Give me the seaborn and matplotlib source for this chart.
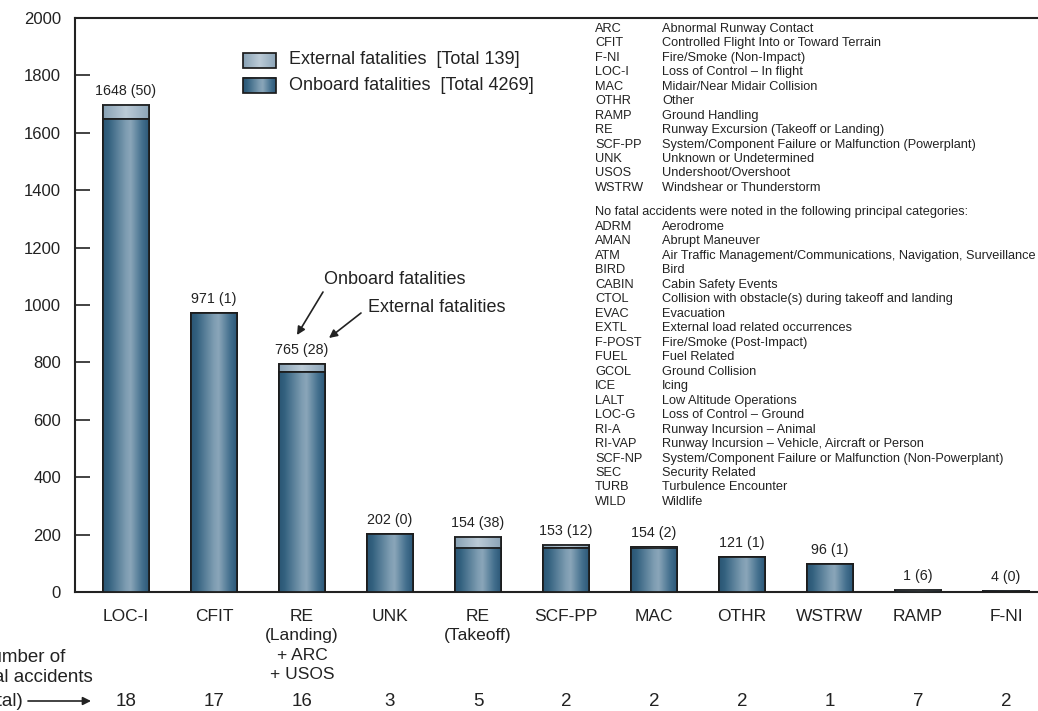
import numpy as np
import pandas as pd
import matplotlib
matplotlib.use("Agg")
import matplotlib.pyplot as plt
import seaborn as sns
from matplotlib.colors import LinearSegmentedColormap
from matplotlib.patches import Rectangle
from matplotlib.transforms import blended_transform_factory

# ---- data -------------------------------------------------------------
categories = ["LOC-I", "CFIT", "RE\n(Landing)\n+ ARC\n+ USOS", "UNK", "RE\n(Takeoff)",
              "SCF-PP", "MAC", "OTHR", "WSTRW", "RAMP", "F-NI"]
onboard = [1648, 971, 765, 202, 154, 153, 154, 121, 96, 1, 4]
external = [50, 1, 28, 0, 38, 12, 2, 1, 1, 6, 0]
accidents = [18, 17, 16, 3, 5, 2, 2, 2, 1, 7, 2]
y_ticks = [0, 200, 400, 600, 800, 1000, 1200, 1400, 1600, 1800, 2000]

codes_fatal = ["ARC", "CFIT", "F-NI", "LOC-I", "MAC", "OTHR", "RAMP", "RE",
               "SCF-PP", "UNK", "USOS", "WSTRW"]
names_fatal = ["Abnormal Runway Contact", "Controlled Flight Into or Toward Terrain",
               "Fire/Smoke (Non-Impact)", "Loss of Control \u2013 In flight",
               "Midair/Near Midair Collision", "Other", "Ground Handling",
               "Runway Excursion (Takeoff or Landing)",
               "System/Component Failure or Malfunction (Powerplant)",
               "Unknown or Undetermined", "Undershoot/Overshoot",
               "Windshear or Thunderstorm"]
none_header = "No fatal accidents were noted in the following principal categories:"
codes_none = ["ADRM", "AMAN", "ATM", "BIRD", "CABIN", "CTOL", "EVAC", "EXTL", "F-POST",
              "FUEL", "GCOL", "ICE", "LALT", "LOC-G", "RI-A", "RI-VAP", "SCF-NP", "SEC",
              "TURB", "WILD"]
names_none = ["Aerodrome", "Abrupt Maneuver",
              "Air Traffic Management/Communications, Navigation, Surveillance",
              "Bird", "Cabin Safety Events",
              "Collision with obstacle(s) during takeoff and landing", "Evacuation",
              "External load related occurrences", "Fire/Smoke (Post-Impact)",
              "Fuel Related", "Ground Collision", "Icing", "Low Altitude Operations",
              "Loss of Control \u2013 Ground", "Runway Incursion \u2013 Animal",
              "Runway Incursion \u2013 Vehicle, Aircraft or Person",
              "System/Component Failure or Malfunction (Non-Powerplant)",
              "Security Related", "Turbulence Encounter", "Wildlife"]

# ---- style ------------------------------------------------------------
sns.set_theme(style="white")
plt.rcParams["font.family"] = ["Liberation Sans", "DejaVu Sans"]
INK = "#222222"
plt.rcParams["text.color"] = INK

onboard_cmap = LinearSegmentedColormap.from_list(
    "onboard", [(0.0, "#2a5574"), (0.12, "#33617f"), (0.5, "#7e9db2"),
                (0.6, "#8aa6b9"), (0.85, "#44708e"), (1.0, "#2c5878")])
external_cmap = LinearSegmentedColormap.from_list(
    "external", [(0.0, "#87a1b4"), (0.5, "#bccbd7"), (1.0, "#8ca5b8")])

EDGE_LW = 1.25

W, H = 1038, 711
fig = plt.figure(figsize=(W / 100, H / 100), dpi=100)
ax = fig.add_axes([75 / W, (H - 592) / H, (1057 - 75) / W, (592 - 18) / H])

df = pd.DataFrame({"category": categories, "onboard": onboard, "external": external})
df["total"] = df["onboard"] + df["external"]

sns.barplot(data=df, x="category", y="total", color="#a9bdcc", width=0.52,
            edgecolor="#1c1c1c", linewidth=EDGE_LW, errorbar=None, ax=ax, zorder=2)
sns.barplot(data=df, x="category", y="onboard", color="#4f7a97", width=0.52,
            edgecolor="#1c1c1c", linewidth=EDGE_LW, errorbar=None, ax=ax, zorder=3)

XLIM = (-0.58, 10.58)
ax.set_xlim(*XLIM)
ax.set_ylim(0, 2000)

grad = np.linspace(0, 1, 256)


def shade(x0, x1, y0, y1, cmap, z, target=ax):
    img = cmap(grad).reshape(1, -1, 4)
    target.imshow(img, extent=[x0, x1, y0, y1], aspect="auto", zorder=z,
                  interpolation="bilinear")
    target.add_patch(Rectangle((x0, y0), x1 - x0, y1 - y0, fill=False,
                               edgecolor="#1c1c1c", linewidth=EDGE_LW, zorder=z + 0.01))


n = len(categories)
for k, p in enumerate(ax.patches[:2 * n]):
    cmap = external_cmap if k < n else onboard_cmap
    x0, y0 = p.get_x(), p.get_y()
    shade(x0, x0 + p.get_width(), y0, y0 + p.get_height(), cmap, p.get_zorder() + 0.01)

ax.set_xlim(*XLIM)
ax.set_ylim(0, 2000)
ax.set_xlabel("")
ax.set_ylabel("")

for side in ["left", "top", "bottom", "right"]:
    ax.spines[side].set_linewidth(1.5)
    ax.spines[side].set_color(INK)
ax.set_yticks(y_ticks)
ax.tick_params(axis="y", direction="in", length=11, width=1.2, color=INK,
               pad=10, labelsize=12, labelcolor=INK, left=True)
ax.tick_params(axis="x", length=0, pad=12, labelsize=12.5, labelcolor=INK)
for lbl in ax.get_xticklabels():
    lbl.set_linespacing(1.38)

# value labels: onboard (external)
for i, (o, e) in enumerate(zip(onboard, external)):
    ax.annotate(f"{o} ({e})", xy=(i, o + e), xytext=(0, 5), textcoords="offset points",
                ha="center", va="bottom", fontsize=10.3, color=INK)

# accident counts row
ROW_FS = 13.5
row = blended_transform_factory(ax.transData, fig.transFigure)
for i, c in enumerate(accidents):
    ax.text(i, 1 - 701 / H, str(c), transform=row, ha="center", va="center",
            fontsize=ROW_FS, color=INK, clip_on=False)

fig.text(65 / W, 1 - 657 / H, "Number of", ha="right", va="center", fontsize=ROW_FS)
fig.text(93 / W, 1 - 678 / H, "fatal accidents", ha="right", va="center", fontsize=ROW_FS)
fig.text(24 / W, 1 - 701 / H, "(total)", ha="right", va="center", fontsize=ROW_FS)
arrow_kw = dict(arrowstyle="-|>", lw=1.2, color=INK, mutation_scale=12,
                shrinkA=0, shrinkB=0)
ax.annotate("", xy=(91, H - 701), xytext=(28, H - 701), xycoords="figure pixels",
            textcoords="figure pixels", arrowprops=arrow_kw)

# legend
legend_rows = [(53, 68, external_cmap, f"External fatalities  [Total {sum(external)}]", 60),
               (78, 93, onboard_cmap, f"Onboard fatalities  [Total {sum(onboard)}]", 85)]
inv = ax.transData.inverted()
for top, bot, cmap, label, yc in legend_rows:
    (lx0, ly0) = inv.transform((243, H - bot))
    (lx1, ly1) = inv.transform((276, H - top))
    shade(lx0, lx1, ly0, ly1, cmap, 5)
    fig.text(289 / W, 1 - yc / H, label, ha="left", va="center", fontsize=13)
ax.set_xlim(*XLIM)
ax.set_ylim(0, 2000)

# pointer annotations
fig.text(395 / W, 1 - 280 / H, "Onboard fatalities", ha="center", va="center", fontsize=13)
fig.text(437 / W, 1 - 307 / H, "External fatalities", ha="center", va="center", fontsize=13)
ax.annotate("", xy=(297, H - 335), xytext=(323, H - 292), xycoords="figure pixels",
            textcoords="figure pixels", arrowprops=arrow_kw)
ax.annotate("", xy=(329, H - 338), xytext=(361, H - 313), xycoords="figure pixels",
            textcoords="figure pixels", arrowprops=arrow_kw)

# glossary of category codes
GS = 9.2
for j, (c, name) in enumerate(zip(codes_fatal, names_fatal)):
    y = 1 - (29 + 14.45 * j) / H
    fig.text(595 / W, y, c, ha="left", va="center", fontsize=GS)
    fig.text(662 / W, y, name, ha="left", va="center", fontsize=GS)
fig.text(595 / W, 1 - 212 / H, none_header, ha="left", va="center", fontsize=GS)
for j, (c, name) in enumerate(zip(codes_none, names_none)):
    y = 1 - (227 + 14.47 * j) / H
    fig.text(595 / W, y, c, ha="left", va="center", fontsize=GS)
    fig.text(662 / W, y, name, ha="left", va="center", fontsize=GS)

fig.savefig("out.png", dpi=100)
